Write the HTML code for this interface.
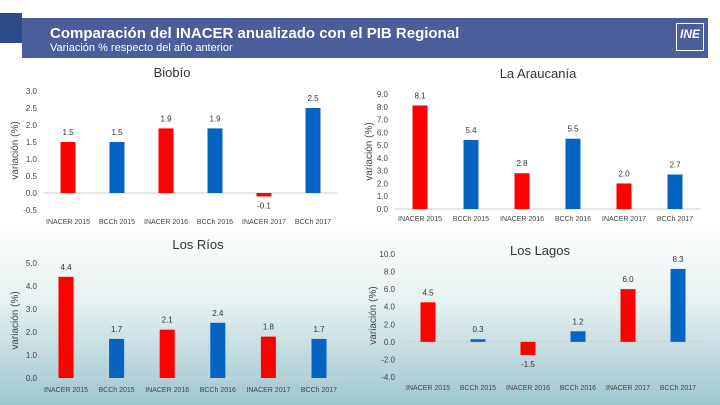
<!DOCTYPE html>
<html><head><meta charset="utf-8"><style>
body{margin:0;width:720px;height:405px;overflow:hidden;font-family:"Liberation Sans",sans-serif;background:linear-gradient(180deg,#ffffff 0%,#ffffff 55%,#e6f0f0 75%,#9cc6cf 100%);position:relative}
#hdr{position:absolute;left:22px;top:18px;width:686px;height:40px;background:#4a5e9c}
#blk{position:absolute;left:0;top:13px;width:22px;height:30px;background:#2d4a8a}
#t1{position:absolute;left:50px;top:25px;color:#fff;font-size:15px;font-weight:bold}
#t2{position:absolute;left:50px;top:42px;color:#fff;font-size:11px}
#logo{position:absolute;left:676px;top:23px;width:26px;height:26px;border:1px solid #fff;color:#fff;font-size:12px;font-weight:bold;font-style:italic;text-align:center;line-height:20px}
svg{position:absolute;left:0;top:0}
</style></head><body>
<div id="blk"></div>
<div id="hdr"></div>
<div id="t1">Comparación del INACER anualizado con el PIB Regional</div>
<div id="t2">Variación % respecto del año anterior</div>
<div id="logo">INE</div>
<svg id="c" width="720" height="405"></svg>
<script>
const categories=["INACER 2015","BCCh 2015","INACER 2016","BCCh 2016","INACER 2017","BCCh 2017"];
const biobioValues=[1.5,1.5,1.9,1.9,-0.1,2.5];
const araucaniaValues=[8.1,5.4,2.8,5.5,2.0,2.7];
const riosValues=[4.4,1.7,2.1,2.4,1.8,1.7];
const lagosValues=[4.5,0.3,-1.5,1.2,6.0,8.3];
const biobioTicks=[-0.5,0,0.5,1,1.5,2,2.5,3];
const araucaniaTicks=[0,1,2,3,4,5,6,7,8,9];
const riosTicks=[0,1,2,3,4,5];
const lagosTicks=[-4,-2,0,2,4,6,8,10];
const NS="http://www.w3.org/2000/svg";
const svg=document.getElementById('c');
function mk(t,a){const e=document.createElementNS(NS,t);for(const k in a)e.setAttribute(k,a[k]);svg.appendChild(e);return e;}
function chart(name,title,titleX,titleY,vals,ticks,x0,dx,yMax,yMaxPx,yMin,yMinPx,axisLabelX,ylabX,labY){
  const y=v=>yMaxPx+(yMax-v)*(yMinPx-yMaxPx)/(yMax-yMin);
  let t=mk('text',{x:titleX,y:titleY,'font-size':13,fill:'#333','text-anchor':'middle'});t.textContent=title;
  
  
  ticks.forEach(v=>{const e=mk('text',{x:axisLabelX,y:y(v)+3,'font-size':8,fill:'#444','text-anchor':'end'});e.textContent=v.toFixed(1);
    
    });
  const l=mk('line',{x1:x0-dx/2,x2:x0+dx*5.5,y1:y(0),y2:y(0),stroke:'#d0d0d0','stroke-width':1});
  
  
  const yl=mk('text',{x:ylabX,y:(yMaxPx+yMinPx)/2,'font-size':10,fill:'#444','text-anchor':'middle',transform:`rotate(-90 ${ylabX} ${(yMaxPx+yMinPx)/2})`});yl.textContent='variación (%)';
  
  
  vals.forEach((v,i)=>{const cx=x0+dx*i;const top=Math.min(y(v),y(0)),h=Math.abs(y(v)-y(0));
    const b=mk('rect',{x:cx-7.5,y:top,width:15,height:Math.max(h,1),fill:i%2?'#0563c1':'#ff0000'});
    
    
    const lv=mk('text',{x:cx,y:v<0?y(v)+12:y(v)-7,'font-size':8,fill:'#333','text-anchor':'middle'});lv.textContent=v.toFixed(1);
    
    
    const c=mk('text',{x:cx,y:labY,'font-size':7,fill:'#444','text-anchor':'middle'});c.textContent=categories[i];
    
    });
}
chart('biobio','Biobío',172,77,biobioValues,biobioTicks,68,49,3,91,-0.5,210,37,18,224);
chart('araucania','La Araucanía',538,78,araucaniaValues,araucaniaTicks,420,51,9,94,0,209,388,372,221);
chart('rios','Los Ríos',198,249,riosValues,riosTicks,66,50.6,5,263,0,378,37,18,392);
chart('lagos','Los Lagos',540,255,lagosValues,lagosTicks,428,50,10,254,-4,377,395,376,390);
</script>
</body></html>
